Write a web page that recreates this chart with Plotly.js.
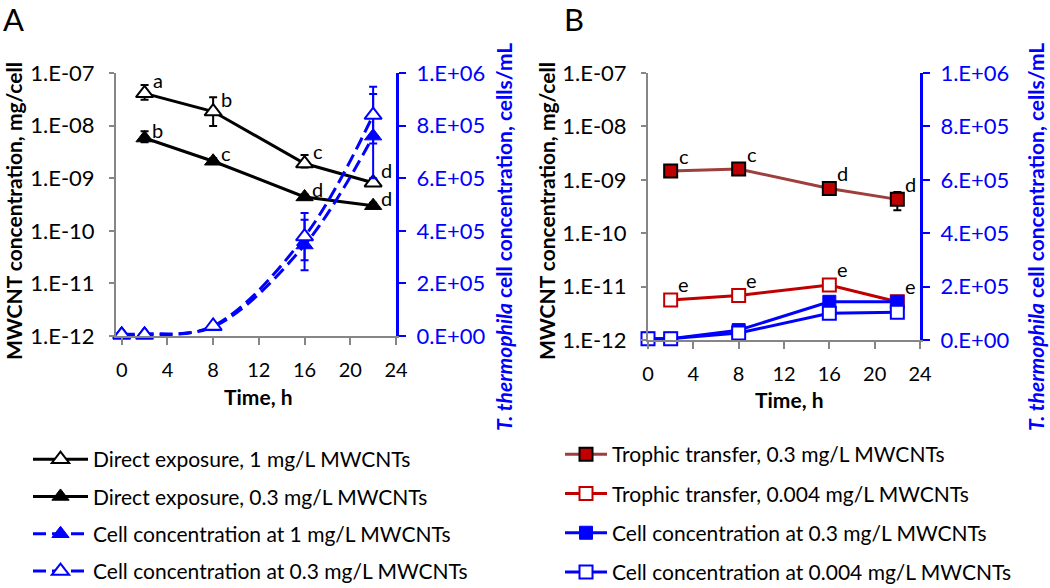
<!DOCTYPE html>
<html>
<head>
<meta charset="utf-8">
<script src="https://cdn.plot.ly/plotly-3.0.1.min.js"></script>
<style>html,body{margin:0;padding:0;background:#fff;overflow:hidden;}#chart{width:1050px;height:588px;}</style>
</head>
<body>
<div id="chart"></div>
<script>
// ---------- data ----------
const timeMW = [2, 8, 16, 22];
const timeCells = [0, 2, 8, 16, 22];

// Panel A
const directHigh = [4.1e-8, 1.85e-8, 1.9e-9, 8.2e-10];
const directHighErrPlus = [1.8e-8, 1.6e-8, 0.86e-9, 1.5e-10];
const directHighErrMinus = [1.0e-8, 0.87e-8, 0.3e-9, 0.5e-10];
const directHighLetters = ["a", "b", "c", "d"];

const directLow = [5.8e-9, 2.1e-9, 4.4e-10, 3.0e-10];
const directLowErrPlus = [2.0e-9, 0.3e-9, 0.5e-10, 0.4e-10];
const directLowErrMinus = [1.0e-9, 0.2e-9, 0.4e-10, 0.3e-10];
const directLowLetters = ["b", "c", "d", "d"];

const cellsAt1 = [8e3, 8e3, 3.5e4, 3.46e5, 7.6e5];
const cellsAt1Err = [0, 0, 0, 0.96e5, 1.6e5];
const cellsAt03 = [4e3, 4e3, 3.8e4, 3.78e5, 8.4e5];
const cellsAt03Err = [0, 0, 0, 0.9e5, 1.08e5];

// Panel B
const trophHigh = [1.46e-9, 1.59e-9, 6.9e-10, 4.3e-10];
const trophHighErr = [0.15e-9, 0.25e-9, 0.6e-10, 1.6e-10];
const trophHighLetters = ["c", "c", "d", "d"];

const trophLow = [5.6e-12, 6.8e-12, 1.07e-11, 5.2e-12];
const trophLowErr = [0, 0, 1.0e-12, 0];
const trophLowLetters = ["e", "e", "e", "e"];

const cellsB03 = [5e3, 5e3, 3.7e4, 1.43e5, 1.43e5];
const cellsB03Err = [0, 0, 0, 1.2e4, 0];
const cellsB0004 = [5e3, 5e3, 2.6e4, 1.0e5, 1.04e5];

// tick labels
const xTicks = [0, 4, 8, 12, 16, 20, 24];
const logTickVals = [1e-12, 1e-11, 1e-10, 1e-9, 1e-8, 1e-7];
const logTickText = ["1.E-12", "1.E-11", "1.E-10", "1.E-09", "1.E-08", "1.E-07"];
const cellTickVals = [0, 2e5, 4e5, 6e5, 8e5, 1e6];
const cellTickText = ["0.E+00", "2.E+05", "4.E+05", "6.E+05", "8.E+05", "1.E+06"];

const legendA = ["Direct exposure, 1 mg/L MWCNTs", "Direct exposure, 0.3 mg/L MWCNTs",
                 "Cell concentration at 1 mg/L MWCNTs", "Cell concentration at 0.3 mg/L MWCNTs"];
const legendB = ["Trophic transfer, 0.3 mg/L MWCNTs", "Trophic transfer, 0.004 mg/L MWCNTs",
                 "Cell concentration at 0.3 mg/L MWCNTs", "Cell concentration at 0.004 mg/L MWCNTs"];

// ---------- styles ----------
const FONT = "Lato, 'Open Sans', sans-serif";
const BLUE = "#0000FF";
const GRAY = "#868686";
const RED = "#C00000";
const BROWN = "#9E3F3D";
const W = 1050, H = 588;
const px = v => v / W;
const py = v => 1 - v / H;

function err(plus, minus, color) {
  return {type: "data", array: plus, arrayminus: minus || plus, visible: true,
          color: color, thickness: 2, width: 4};
}

const traces = [
  // Panel A, left axis
  {x: timeMW, y: directHigh, xaxis: "x", yaxis: "y", name: legendA[0], legend: "legend",
   legendgroup: "a1", legendrank: 1, mode: "lines+markers", cliponaxis: false,
   line: {color: "#000", width: 3},
   marker: {symbol: "triangle-up", size: 15, color: "#fff", line: {color: "#000", width: 2}},
   error_y: err(directHighErrPlus, directHighErrMinus, "#000")},
  {x: timeMW, y: directLow, xaxis: "x", yaxis: "y", name: legendA[1], legend: "legend",
   legendgroup: "a2", legendrank: 2, mode: "lines+markers", cliponaxis: false,
   line: {color: "#000", width: 3},
   marker: {symbol: "triangle-up", size: 15, color: "#000", line: {color: "#000", width: 1}},
   error_y: err(directLowErrPlus, directLowErrMinus, "#000")},
  // Panel A, right axis
  {x: timeCells, y: cellsAt1, xaxis: "x", yaxis: "y2", name: legendA[2], legend: "legend",
   legendgroup: "a3", legendrank: 3, mode: "lines+markers", cliponaxis: false,
   line: {color: BLUE, width: 3, dash: "13px,6px", shape: "spline"},
   marker: {symbol: "triangle-up", size: 15, color: BLUE, line: {color: BLUE, width: 1}},
   error_y: err(cellsAt1Err, cellsAt1Err, BLUE)},
  {x: timeCells, y: cellsAt03, xaxis: "x", yaxis: "y2", name: legendA[3], legend: "legend",
   legendgroup: "a4", legendrank: 4, mode: "lines+markers", cliponaxis: false,
   line: {color: BLUE, width: 3, dash: "13px,6px", shape: "spline"},
   marker: {symbol: "triangle-up", size: 15, color: "#fff", line: {color: BLUE, width: 2}},
   error_y: err(cellsAt03Err, cellsAt03Err, BLUE)},
  // Panel B, left axis
  {x: timeMW, y: trophHigh, xaxis: "x2", yaxis: "y3", name: legendB[0], legend: "legend2",
   legendgroup: "b1", legendrank: 1, mode: "lines+markers", cliponaxis: false,
   line: {color: BROWN, width: 3},
   marker: {symbol: "square", size: 13, color: RED, line: {color: "#000", width: 2}},
   error_y: err(trophHighErr, trophHighErr, "#000")},
  {x: timeMW, y: trophLow, xaxis: "x2", yaxis: "y3", name: legendB[1], legend: "legend2",
   legendgroup: "b2", legendrank: 2, mode: "lines+markers", cliponaxis: false,
   line: {color: RED, width: 3},
   marker: {symbol: "square", size: 13, color: "#fff", line: {color: RED, width: 2}},
   error_y: err(trophLowErr, trophLowErr, "#000")},
  // Panel B, right axis
  {x: timeCells, y: cellsB03, xaxis: "x2", yaxis: "y4", name: legendB[2], legend: "legend2",
   legendgroup: "b3", legendrank: 3, mode: "lines+markers", cliponaxis: false,
   line: {color: BLUE, width: 3},
   marker: {symbol: "square", size: 13, color: BLUE, line: {color: BLUE, width: 1}},
   error_y: err(cellsB03Err, cellsB03Err, BLUE)},
  {x: timeCells, y: cellsB0004, xaxis: "x2", yaxis: "y4", name: legendB[3], legend: "legend2",
   legendgroup: "b4", legendrank: 4, mode: "lines+markers", cliponaxis: false,
   line: {color: BLUE, width: 3},
   marker: {symbol: "square", size: 13, color: "#fff", line: {color: BLUE, width: 2}}}
];

// letter annotations placed at data points
const annotations = [];
function letters(xs, ys, labels, xref, yref, dy) {
  labels.forEach((t, i) => annotations.push({
    x: xs[i], y: Math.log10(ys[i]), xref: xref, yref: yref, text: t, showarrow: false,
    xanchor: "center", yanchor: "middle",
    xshift: 13, yshift: dy, font: {family: FONT, size: 20, color: "#000"}
  }));
}
letters(timeMW, directHigh, directHighLetters, "x", "y", 13);
letters(timeMW, directLow, directLowLetters, "x", "y", 8);
letters(timeMW, trophHigh, trophHighLetters, "x2", "y3", 15);
letters(timeMW, trophLow, trophLowLetters, "x2", "y3", 16);

const titleFont = {family: FONT, size: 21, color: "#000", weight: "bold"};
const blueTitleFont = {family: FONT, size: 21, color: BLUE, weight: "bold"};
function paperText(x, y, text, font, angle) {
  annotations.push({xref: "paper", yref: "paper", x: px(x), y: py(y), text: text, showarrow: false,
                    xanchor: "center", yanchor: "middle", textangle: angle || 0, font: font});
}
paperText(13, 19, "A", {family: FONT, size: 31, color: "#000"});
paperText(574, 19, "B", {family: FONT, size: 31, color: "#000"});
paperText(13, 211, "MWCNT concentration, mg/cell", titleFont, -90);
paperText(546, 211, "MWCNT concentration, mg/cell", titleFont, -90);
paperText(503, 237, "<i>T. thermophila</i> cell concentration, cells/mL", blueTitleFont, -90);
paperText(1035, 237, "<i>T. thermophila</i> cell concentration, cells/mL", blueTitleFont, -90);
paperText(258, 396, "Time, h", titleFont);
paperText(789, 399, "Time, h", titleFont);

const tickFont = {family: FONT, size: 22, color: "#000"};
const xTickFont = {family: FONT, size: 20, color: "#000"};
const blueTickFont = {family: FONT, size: 22, color: BLUE};

function xAxis(domain, range, anchor) {
  return {domain: domain, range: range, anchor: anchor, tickvals: xTicks, ticktext: xTicks.map(String),
          showline: true, linecolor: GRAY, linewidth: 2, ticks: "outside", ticklen: 7, tickwidth: 2,
          tickcolor: GRAY, showgrid: false, zeroline: false, tickfont: xTickFont,
          ticklabelstandoff: 8, fixedrange: true};
}
function logAxis(domain, anchor) {
  return {type: "log", domain: domain, anchor: anchor, range: [-12, -7], tickvals: logTickVals,
          ticktext: logTickText, showline: true, linecolor: GRAY, linewidth: 2, ticks: "outside",
          ticklen: 5, tickwidth: 2, tickcolor: GRAY, showgrid: false, zeroline: false,
          tickfont: tickFont, ticklabelstandoff: 10};
}
function cellAxis(overlay, anchor) {
  return {overlaying: overlay, anchor: anchor, side: "right", range: [0, 1e6], tickvals: cellTickVals,
          ticktext: cellTickText, showline: true, linecolor: BLUE, linewidth: 3, ticks: "outside",
          ticklen: 7, tickwidth: 2, tickcolor: BLUE, showgrid: false, zeroline: false,
          tickfont: blueTickFont, ticklabelstandoff: 6};
}

const legendFont = {family: FONT, size: 21, color: "#000"};
const layout = {
  width: W, height: 588, margin: {l: 0, r: 0, t: 0, b: 0, autoexpand: false},
  paper_bgcolor: "#fff", plot_bgcolor: "rgba(0,0,0,0)", font: {family: FONT},
  xaxis: xAxis([px(116), px(396)], [-0.5, 24], "y"),
  yaxis: logAxis([py(336), py(73)], "x"),
  yaxis2: cellAxis("y", "x"),
  xaxis2: xAxis([px(648), px(920)], [0, 24], "y3"),
  yaxis3: logAxis([py(340), py(73)], "x2"),
  yaxis4: cellAxis("y3", "x2"),
  showlegend: true,
  legend: {x: px(28), y: py(439), xanchor: "left", yanchor: "top", font: legendFont,
           tracegroupgap: 7, itemwidth: 55, bgcolor: "rgba(0,0,0,0)", traceorder: "grouped"},
  legend2: {x: px(560), y: py(434), xanchor: "left", yanchor: "top", font: legendFont,
            tracegroupgap: 9, itemwidth: 42, bgcolor: "rgba(0,0,0,0)", traceorder: "grouped"},
  annotations: annotations
};

Plotly.newPlot("chart", traces, layout, {staticPlot: true, displayModeBar: false});
</script>
</body>
</html>
